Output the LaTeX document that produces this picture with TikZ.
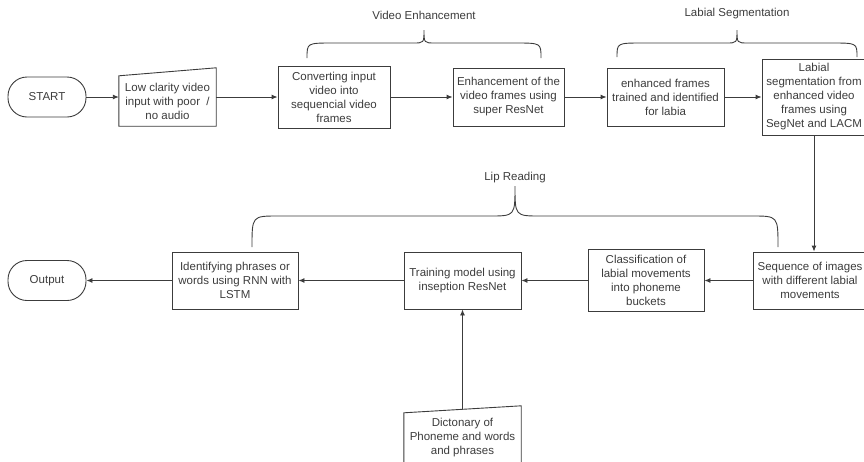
\documentclass[tikz,border=0pt]{standalone}
\usepackage{fontspec}
\setmainfont{Liberation Sans}
\usetikzlibrary{arrows.meta}
\definecolor{inkgray}{RGB}{60,60,60}
\tikzset{
  base/.style={font=\fontsize{11.5}{14}\selectfont, text=inkgray, align=center, inner sep=2pt},
  termbox/.style={base, draw=inkgray, line width=0.9pt, rounded corners=19pt, minimum width=78pt, minimum height=40pt},
  procbox/.style={base, draw=inkgray, line width=0.9pt, minimum height=58pt},
  inbox/.style={base, minimum height=50pt},
  flow/.style={draw=inkgray, line width=0.9pt, -{Latex[length=6pt,width=5pt]}},
  grp/.style={draw=inkgray, line width=0.9pt},
}
\begin{document}
\begin{tikzpicture}[x=1pt,y=-1pt]
    \useasboundingbox (0,0) rectangle (864,461);
    % top row
    \node[termbox] (start) at (47,97) {START};
    \node[inbox, minimum width=97pt] (input) at (167.5,101) {Low clarity video\\input with poor\ \ /\\no audio};
    \draw[grp] (input.south west) -- (input.north west) -- ([yshift=8pt]input.north east) -- (input.south east) -- cycle;
    \node[procbox, minimum width=112pt, minimum height=62pt] (frames) at (334,97) {Converting input\\video into\\sequencial video\\frames};
    \node[procbox, minimum width=111pt] (enhance) at (508.5,97) {Enhancement of the\\video frames using\\super ResNet};
    \node[procbox, minimum width=117pt] (labia) at (665.5,97) {enhanced frames\\trained and identified\\for labia};
    \node[procbox, minimum width=104pt, minimum height=76pt] (segment) at (814,97) {Labial\\segmentation from\\enhanced video\\frames using\\SegNet and LACM};
    % bottom row
    \node[procbox, minimum width=113pt, minimum height=57pt] (seq) at (810,280.5) {Sequence of images\\with different labial\\movements};
    \node[procbox, minimum width=116pt, minimum height=62pt] (classify) at (646,280.5) {Classification of\\labial movements\\into phoneme\\buckets};
    \node[procbox, minimum width=117pt, minimum height=57pt] (model) at (462.5,280.5) {Training model using\\inseption ResNet};
    \node[procbox, minimum width=126pt, minimum height=57pt] (identify) at (235,280.5) {Identifying phrases or\\words using RNN with\\LSTM};
    \node[termbox] (output) at (47,280.5) {Output};
    \node[inbox, minimum width=117pt] (dict) at (462.5,438) {Dictonary of\\Phoneme and words\\and phrases};
    \draw[grp] (dict.south west) -- (dict.north west) -- ([yshift=7pt]dict.north east) -- (dict.south east) -- cycle;
    % connectors
    \draw[flow] (start) -- (start -| input.west);
    \draw[flow] (input.east |- frames) -- (frames);
    \draw[flow] (frames) -- (enhance);
    \draw[flow] (enhance) -- (labia);
    \draw[flow] (labia) -- (segment);
    \draw[flow] (segment) -- (segment |- seq.north);
    \draw[flow] (seq) -- (classify);
    \draw[flow] (classify) -- (model);
    \draw[flow] (model) -- (identify);
    \draw[flow] (identify) -- (output);
    \draw[flow] ([yshift=3.5pt]dict.north) -- (model);
    % braces
    \foreach \nm/\xa/\xb/\yb/\yh/\yt/\ly/\txt in {venh/307/541/58/43/30/15/Video Enhancement,
        lseg/617/857/57/43/30/14/Labial Segmentation, lipr/252/778/247/216/186/178/Lip Reading}{
        \pgfmathsetmacro\xm{(\xa+\xb)/2}
        \pgfmathsetmacro\mx{0.85*(\yh-\yt)}
        \draw[grp] (\xa,\yb) .. controls (\xa,\yh) .. (\xa+26,\yh) -- (\xm-\mx,\yh) .. controls (\xm,\yh) .. (\xm,\yt)
            .. controls (\xm,\yh) .. (\xm+\mx,\yh) -- (\xb-26,\yh) .. controls (\xb,\yh) .. (\xb,\yb);
        \node[base] (\nm) at (\xm,\ly) {\txt};
    }
\end{tikzpicture}
\end{document}
